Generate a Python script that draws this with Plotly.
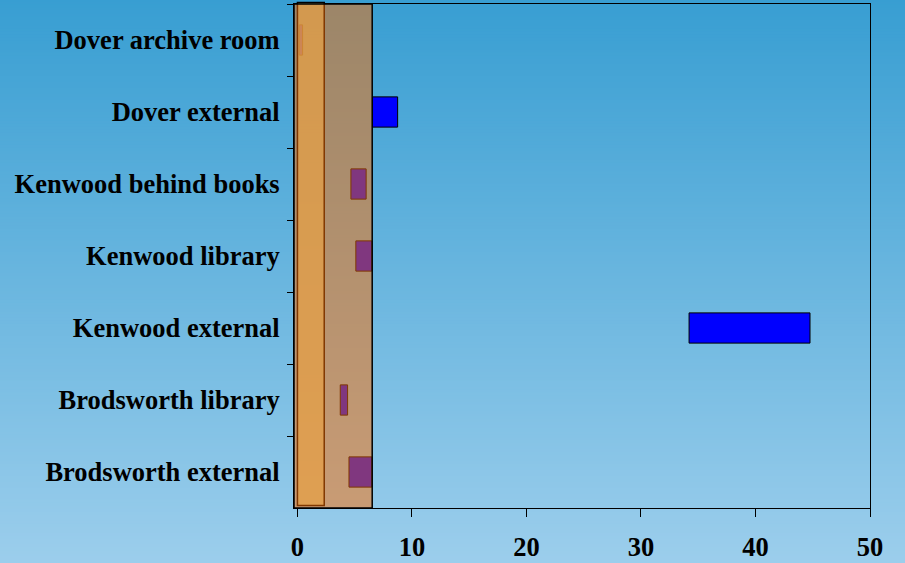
import plotly.graph_objects as go

# ---- data ----
categories = ["Dover archive room", "Dover external", "Kenwood behind books",
              "Kenwood library", "Kenwood external", "Brodsworth library",
              "Brodsworth external"]
range_start = [0.16, 6.55, 4.67, 5.10, 34.2, 3.74, 4.50]
range_end = [0.45, 8.75, 6.00, 6.50, 44.76, 4.38, 6.50]
orange_band = [0.0, 2.34]
brown_band = [-0.3, 6.53]
x_ticks = [0, 10, 20, 30, 40, 50]

widths = [e - s for s, e in zip(range_start, range_end)]

fig = go.Figure()
fig.add_trace(go.Bar(
    y=categories, x=widths, base=range_start, orientation="h",
    width=0.42,
    marker=dict(color="#0000FF", line=dict(color="#000000", width=1)),
    showlegend=False, hoverinfo="skip",
))

shapes = []
# vertical gradient background (stripes)
top_c = (56, 158, 210)
bot_c = (156, 206, 236)
n = 190
y_top, y_bot = 1.01, -0.115
for i in range(n):
    t = i / (n - 1)
    c = tuple(round(top_c[k] + (bot_c[k] - top_c[k]) * t) for k in range(3))
    ya = y_top + (y_bot - y_top) * i / n
    yb = y_top + (y_bot - y_top) * (i + 1) / n
    shapes.append(dict(type="rect", xref="paper", yref="paper", layer="below",
                       x0=-0.6, x1=1.1, y0=yb - 0.001, y1=ya + 0.001,
                       fillcolor="rgb(%d,%d,%d)" % c, line=dict(width=0)))

# orange zone (under the brown overlay)
shapes.append(dict(type="rect", xref="x", yref="paper", layer="above",
                   x0=orange_band[0], x1=orange_band[1], y0=0.005, y1=1.003,
                   fillcolor="rgba(205,210,140,0.74)",
                   line=dict(color="#000000", width=1.5)))
# brown translucent overlay
shapes.append(dict(type="rect", xref="x", yref="paper", layer="above",
                   x0=brown_band[0], x1=brown_band[1], y0=0, y1=1,
                   fillcolor="rgba(255,110,0,0.5)",
                   line=dict(color="#000000", width=1.5)))

fig.update_layout(
    width=905, height=563, autosize=False,
    margin=dict(l=294, r=35, t=4, b=55, pad=0, autoexpand=False),
    paper_bgcolor="#6AB5DE", plot_bgcolor="rgba(0,0,0,0)",
    shapes=shapes,
    font=dict(family="Liberation Serif, Times New Roman, serif", color="#000000"),
)
fig.update_xaxes(
    range=[-0.3, 50], tickvals=x_ticks, ticktext=[str(v) for v in x_ticks],
    ticks="outside", ticklen=8, tickcolor="#000000", tickwidth=1,
    showline=True, linecolor="#000000", linewidth=1, mirror=True,
    showgrid=False, zeroline=False, ticklabelstandoff=7, automargin=False,
    tickfont=dict(size=26.5, weight="bold", family="Liberation Serif"),
)
fig.update_yaxes(
    type="category", categoryorder="array", categoryarray=categories,
    autorange="reversed",
    ticks="outside", ticklen=6, tickson="boundaries", tickcolor="#000000",
    showline=True, linecolor="#000000", linewidth=1, mirror=True,
    showgrid=False, zeroline=False, ticklabelstandoff=8, automargin=False,
    tickfont=dict(size=26.5, weight="bold", family="Liberation Serif"),
)

fig.write_html("out.html", config={"displayModeBar": False},
               post_script="document.body.style.margin='0';document.body.style.overflow='hidden';")
